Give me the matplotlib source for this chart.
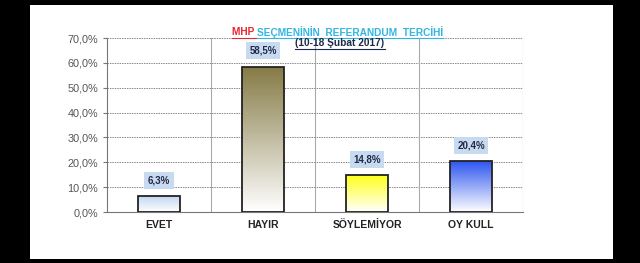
import numpy as np
import matplotlib
matplotlib.use("Agg")
import matplotlib.pyplot as plt
from matplotlib.colors import LinearSegmentedColormap
from matplotlib.patches import Rectangle

# veriler
categories = ['EVET', 'HAYIR', 'SÖYLEMİYOR', 'OY KULL']
values = [6.3, 58.5, 14.8, 20.4]
labels = ['6,3%', '58,5%', '14,8%', '20,4%']
top_colors = ['#c2d6f2', '#857a45', '#ffff1a', '#2e55f0']
yticks = [0, 10, 20, 30, 40, 50, 60, 70]

plt.rcParams['font.family'] = ['Liberation Sans', 'DejaVu Sans']

fig = plt.figure(figsize=(6.4, 2.63), dpi=100, facecolor='black')
# beyaz zemin
fig.patches.append(Rectangle((30 / 640, 1 - 259 / 263), 583 / 640, 254 / 263,
                             transform=fig.transFigure, facecolor='white',
                             edgecolor='none', zorder=-5))

ax = fig.add_axes([107 / 640, 51 / 263, 416 / 640, 174 / 263])
ax.set_facecolor('white')
x = np.arange(len(categories))
width = 0.4

bars = ax.bar(x, values, width, color='none', edgecolor='#222222', linewidth=1.3, zorder=4)

# degrade dolgu
for bar, c in zip(bars, top_colors):
    cmap = LinearSegmentedColormap.from_list('g', ['white', c])
    grad = np.linspace(0, 1, 256).reshape(-1, 1)
    x0 = bar.get_x()
    h = bar.get_height()
    im = ax.imshow(grad, cmap=cmap, origin='lower', aspect='auto',
                   extent=(x0, x0 + bar.get_width(), 0, h), zorder=3)
    im.set_clip_path(bar)

for bar, lab in zip(bars, labels):
    ax.annotate(lab, xy=(bar.get_x() + bar.get_width() / 2, bar.get_height()),
                xytext=(0, 8), textcoords='offset points', ha='center', va='bottom',
                fontsize=7, fontweight='bold', color='#1f2a48', zorder=5,
                bbox=dict(boxstyle='square,pad=0.35', facecolor='#c8daf0', edgecolor='none'))

ax.set_xlim(-0.5, 3.5)
ax.set_ylim(0, 70)
ax.set_yticks(yticks)
ax.set_yticklabels([f'{t:.1f}%'.replace('.', ',') for t in yticks], fontsize=7.8, color='#555555')
ax.set_xticks(x)
ax.set_xticklabels(categories, fontsize=7.5, fontweight='bold', color='#222222')
ax.tick_params(axis='x', length=0, pad=6)
ax.tick_params(axis='y', length=3, color='#777777', direction='out')

for t in yticks[1:]:
    ax.axhline(t, color='#888888', linestyle=(0, (1.5, 1)), linewidth=0.7, zorder=1)
for b in [0.5, 1.5, 2.5, 3.5]:
    ax.axvline(b, color='#aaaaaa', linewidth=0.8, zorder=1)

ax.spines['top'].set_visible(False)
ax.spines['right'].set_visible(False)
ax.spines['left'].set_color('#777777')
ax.spines['bottom'].set_color('#777777')

# baslik
fig.canvas.draw()
r = fig.canvas.get_renderer()
t1 = fig.text(232 / 640, 1 - 32 / 263, 'MHP ', fontsize=7.3, fontweight='bold',
              color='#e8262e', va='center', ha='left')
e1 = t1.get_window_extent(r)
t2 = fig.text(e1.x1 / 640, 1 - 32 / 263, 'SEÇMENİNİN  REFERANDUM  TERCİHİ', fontsize=7.3,
              fontweight='bold', color='#33b5e0', va='center', ha='left')
t3 = fig.text(340 / 640, 1 - 43 / 263, '(10-18 Şubat 2017)', fontsize=7.3,
              fontweight='bold', color='#1f2a48', va='center', ha='center', zorder=6)
for t in [t1, t2, t3]:
    e = t.get_window_extent(r)
    fig.add_artist(plt.Line2D([e.x0 / 640, e.x1 / 640], [(e.y0 - 0.5) / 263] * 2,
                              transform=fig.transFigure, color=t.get_color(), linewidth=0.8))

fig.savefig('out.png', dpi=100, facecolor='black')
